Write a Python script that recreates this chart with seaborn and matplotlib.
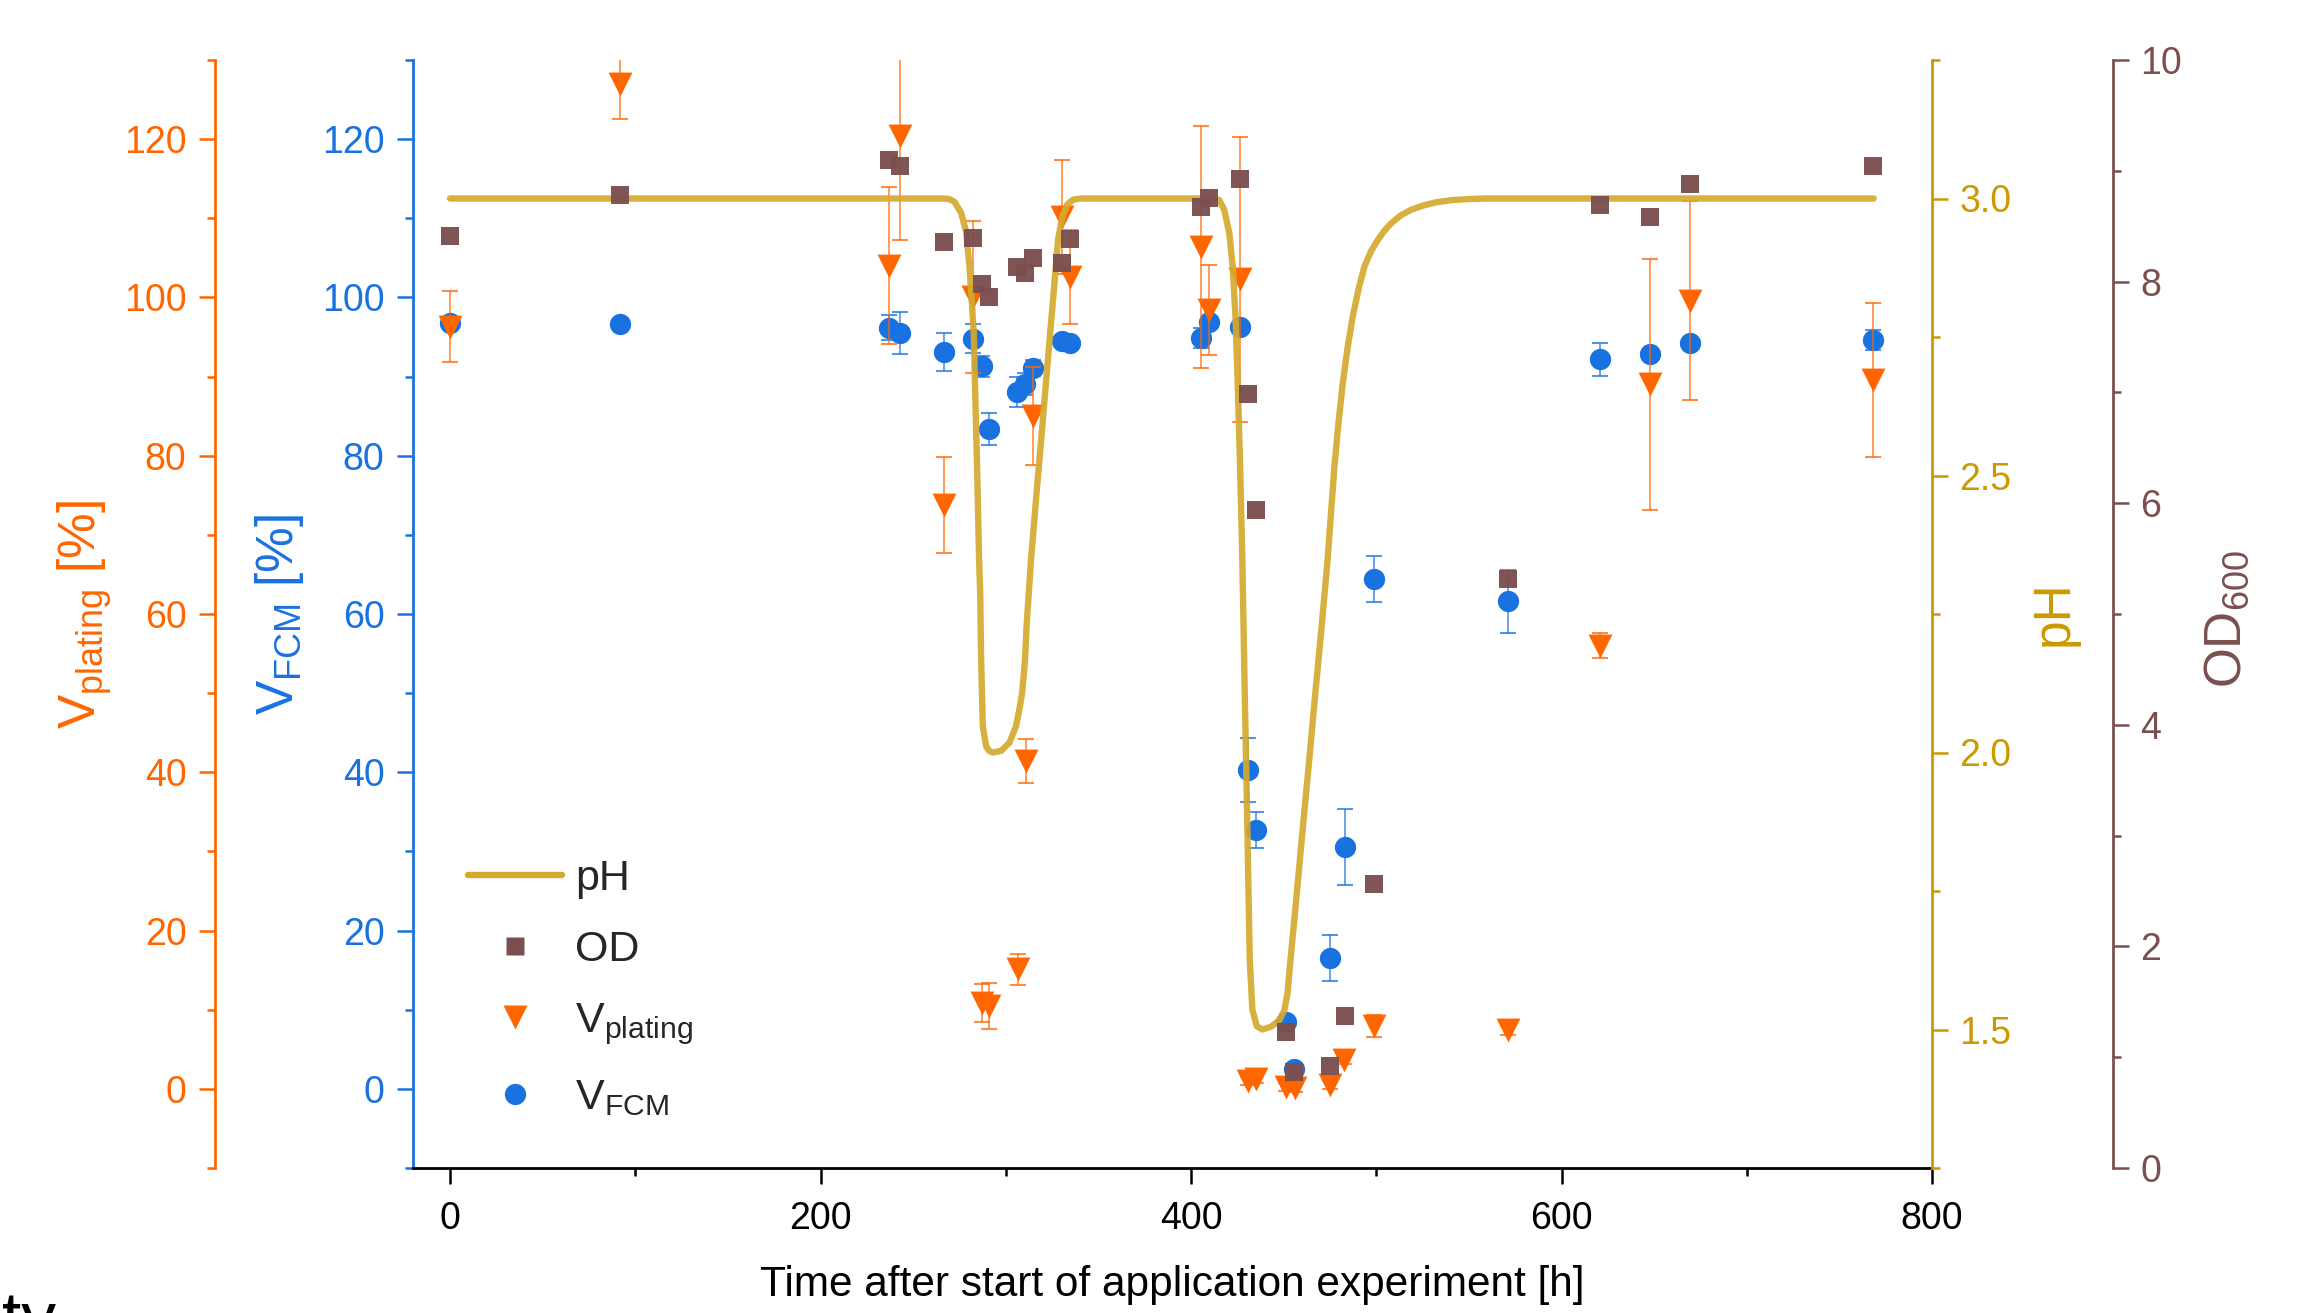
import matplotlib
matplotlib.use('Agg')
import matplotlib.pyplot as plt
from matplotlib.lines import Line2D
from matplotlib.ticker import MultipleLocator, FormatStrFormatter
import seaborn as sns


# values
# viability by flow cytometry [%]
t_fcm = [0, 92, 237, 243, 266.5, 282.5, 287, 291, 306, 310.5, 314.5, 330.5, 334.5,
         405.5, 409.5, 426.5, 431, 435, 451.5, 455.5, 475, 483, 499, 571, 621, 648, 669.5, 768]
v_fcm = [96.8, 96.6, 96.2, 95.5, 93.1, 94.8, 91.3, 83.4, 88.0, 89.1, 91.1, 94.5, 94.2,
         94.9, 96.9, 96.3, 40.3, 32.7, 8.5, 2.5, 16.5, 30.5, 64.4, 61.6, 92.2, 92.9, 94.3, 94.6]
e_fcm = [0.5, 0, 1.6, 2.7, 2.4, 1.8, 1.3, 2.0, 1.9, 1.4, 1.0, 0.4, 0.4,
         1.3, 0.8, 0.5, 4.0, 2.3, 0.5, 0.5, 2.9, 4.8, 2.9, 4.0, 2.1, 0.5, 0.5, 1.3]

# viability by plating [%]
t_pl = [0, 92, 237, 243, 266.5, 282.5, 287, 291, 306.5, 311, 314.5, 330.5, 334.5,
        405.5, 409.5, 426.5, 430.5, 435, 451.5, 456, 475, 482.5, 499, 571, 621, 648, 669.5, 768]
v_pl = [96.3, 127.0, 104.0, 120.4, 73.8, 100.0, 10.8, 10.5, 15.1, 41.4, 85.0, 110.2, 102.6,
        106.4, 98.4, 102.3, 1.0, 1.2, 0.2, 0.1, 0.5, 3.7, 7.9, 7.4, 56.0, 89.0, 99.6, 89.6]
e_pl = [4.5, 4.4, 9.9, 13.1, 6.1, 9.6, 2.4, 2.9, 2.0, 2.8, 6.2, 7.2, 5.9,
        15.3, 5.7, 18.0, 0.5, 0.5, 0.5, 0.5, 0.5, 0.5, 1.4, 0.6, 1.6, 15.9, 12.6, 9.7]

# optical density
t_od = [0, 92, 237, 243, 266.5, 282.5, 287, 291, 306, 310.5, 314.5, 330.5, 334.5,
        405.5, 409.5, 426.5, 431, 435, 451.5, 455.5, 475, 483, 499, 571, 621, 648, 669.5, 768]
v_od = [8.41, 8.78, 9.10, 9.04, 8.36, 8.39, 7.98, 7.86, 8.13, 8.08, 8.21, 8.17, 8.38,
        8.67, 8.75, 8.93, 6.99, 5.94, 1.23, 0.87, 0.92, 1.37, 2.56, 5.32, 8.69, 8.58, 8.88, 9.04]

# pH trace
t_ph = [0, 266.7, 269.5, 272.3, 275.9, 278.6, 280.4, 281.6, 282.7, 283.6, 284.5, 285.6,
        286.2, 286.7, 287.6, 289.4, 291.0, 293.0, 297.5, 302.0, 305.5, 307.3, 308.8, 310.4,
        311.2, 313.6, 316.3, 319.4, 322.4, 325.5, 328.2, 330.7, 333.4, 336.5, 340.6,
        412.6, 415.3, 418.0, 420.7, 422.5, 424.0, 425.2, 426.5, 427.7, 429.0, 430.4, 431.7,
        433.1, 435.5, 438.5, 443.2, 447.7, 450.4, 452.1, 453.7, 457.1, 460.4, 463.8, 467.1,
        470.5, 473.7, 477.4, 479.6, 481.9, 484.5, 487.3, 490.4, 493.6, 497.2, 500.8, 504.4,
        508.0, 513.4, 519.0, 525.0, 532.0, 540.3, 550.0, 560.0, 768.5]
v_ph = [3.0, 3.0, 2.999, 2.994, 2.974, 2.94, 2.877, 2.817, 2.757, 2.636, 2.516, 2.347,
        2.287, 2.167, 2.047, 2.011, 2.003, 2.0, 2.003, 2.018, 2.047, 2.077, 2.107, 2.167,
        2.227, 2.347, 2.456, 2.576, 2.696, 2.817, 2.925, 2.97, 2.99, 2.998, 3.0,
        3.0, 2.997, 2.979, 2.937, 2.877, 2.787, 2.666, 2.516, 2.347, 2.107, 1.866, 1.626,
        1.536, 1.506, 1.500, 1.505, 1.517, 1.535, 1.566, 1.626, 1.746, 1.866, 1.986, 2.107,
        2.227, 2.347, 2.516, 2.595, 2.666, 2.730, 2.787, 2.836, 2.877, 2.905, 2.925, 2.942,
        2.955, 2.970, 2.980, 2.987, 2.993, 2.997, 2.999, 3.0, 3.0]


sns.set_theme(style='white')
plt.rcParams['font.family'] = ['Liberation Sans', 'DejaVu Sans']
plt.rcParams['mathtext.fontset'] = 'custom'
plt.rcParams['mathtext.rm'] = 'Liberation Sans'
plt.rcParams['mathtext.it'] = 'Liberation Sans:italic'
plt.rcParams['mathtext.bf'] = 'Liberation Sans:bold'

c_orange = '#FF6600'
c_blue = '#1A72E0'
c_brown = '#7B4F4F'
c_ph = '#D4AA2E'
c_phax = '#CC9900'

W, H = 2308, 1313
fig = plt.figure(figsize=(W / 100, H / 100), dpi=100)
ax = fig.add_axes([413 / W, 1 - 1168 / H, 1519 / W, 1108 / H])
ax_pl = ax.twinx()
ax_ph = ax.twinx()
ax_od = ax.twinx()

# V_FCM (bottom layer)
ax.errorbar(t_fcm, v_fcm, yerr=e_fcm, fmt='none', ecolor=c_blue, elinewidth=1.2,
            capsize=6, capthick=1.5, alpha=0.75, zorder=1)
sns.scatterplot(x=t_fcm, y=v_fcm, ax=ax, color=c_blue, marker='o', s=235,
                linewidth=0, zorder=2)

# V_plating
ax_pl.errorbar(t_pl, v_pl, yerr=e_pl, fmt='none', ecolor=c_orange, elinewidth=1.2,
               capsize=6, capthick=1.5, alpha=0.75, zorder=1)
sns.scatterplot(x=t_pl, y=v_pl, ax=ax_pl, color=c_orange, marker='v', s=295,
                linewidth=0, zorder=2)

# pH
sns.lineplot(x=t_ph, y=v_ph, ax=ax_ph, color=c_ph, lw=4.6, sort=False,
             estimator=None, alpha=0.92, solid_capstyle='round', solid_joinstyle='round')

# OD
sns.scatterplot(x=t_od, y=v_od, ax=ax_od, color=c_brown, marker='s', s=156,
                linewidth=0, alpha=0.97)

# ---- axes styling ----
maj = dict(length=11.5, width=1.8)
mnr = dict(length=5.8, width=1.8)

ax.set_xlim(-20, 800)
for a in (ax, ax_pl):
    a.set_ylim(-10, 130)
    a.yaxis.set_major_locator(MultipleLocator(20))
    a.yaxis.set_minor_locator(MultipleLocator(10))
ax.xaxis.set_major_locator(MultipleLocator(200))
ax.xaxis.set_minor_locator(MultipleLocator(100))

ax_ph.set_ylim(1.25, 3.25)
ax_ph.yaxis.set_major_locator(MultipleLocator(0.5))
ax_ph.yaxis.set_minor_locator(MultipleLocator(0.25))
ax_ph.yaxis.set_major_formatter(FormatStrFormatter('%.1f'))

ax_od.set_ylim(0, 10)
ax_od.yaxis.set_major_locator(MultipleLocator(2))
ax_od.yaxis.set_minor_locator(MultipleLocator(1))

for a in (ax, ax_pl, ax_ph, ax_od):
    for s in a.spines.values():
        s.set_visible(False)
        s.set_linewidth(2)
    a.set_ylabel('')
    a.set_xlabel('')

# main: blue left axis + black bottom axis
ax.spines['left'].set_visible(True)
ax.spines['left'].set_color(c_blue)
ax.spines['bottom'].set_visible(True)
ax.spines['bottom'].set_color('black')
ax.tick_params(axis='y', which='both', left=True, right=False, direction='out',
               colors=c_blue, labelsize=27, pad=9)
ax.tick_params(axis='y', which='major', **maj)
ax.tick_params(axis='y', which='minor', **mnr)
ax.tick_params(axis='x', which='both', bottom=True, direction='out',
               colors='black', labelsize=27, pad=12)
ax.tick_params(axis='x', which='major', **maj)
ax.tick_params(axis='x', which='minor', **mnr)

# plating: orange axis moved further left
ax_pl.spines['left'].set_visible(True)
ax_pl.spines['left'].set_position(('axes', -198 / 1519))
ax_pl.spines['left'].set_color(c_orange)
ax_pl.yaxis.tick_left()
ax_pl.tick_params(axis='y', which='both', left=True, right=False, labelleft=True,
                  labelright=False, direction='out', colors=c_orange, labelsize=27, pad=9)
ax_pl.tick_params(axis='y', which='major', **maj)
ax_pl.tick_params(axis='y', which='minor', **mnr)

# pH: right axis
ax_ph.spines['right'].set_visible(True)
ax_ph.spines['right'].set_color(c_phax)
ax_ph.tick_params(axis='y', which='both', right=True, left=False, direction='out',
                  colors=c_phax, labelsize=27, pad=8)
ax_ph.tick_params(axis='y', which='major', **maj)
ax_ph.tick_params(axis='y', which='minor', **mnr)

# OD: right axis, offset
ax_od.spines['right'].set_visible(True)
ax_od.spines['right'].set_position(('axes', 1 + 181 / 1519))
ax_od.spines['right'].set_color(c_brown)
ax_od.tick_params(axis='y', which='both', right=True, left=False, direction='out',
                  colors=c_brown, labelsize=27, pad=8)
ax_od.tick_params(axis='y', which='major', **maj)
ax_od.tick_params(axis='y', which='minor', **mnr)

# axis titles
fig.text(85 / W, 1 - 615 / H, r'V$_{\mathrm{plating}}$ [%]', rotation=90,
         ha='center', va='center', color=c_orange, fontsize=37)
fig.text(280 / W, 1 - 615 / H, r'V$_{\mathrm{FCM}}$ [%]', rotation=90,
         ha='center', va='center', color=c_blue, fontsize=37)
fig.text(2054 / W, 1 - 613 / H, 'pH', rotation=90,
         ha='center', va='center', color=c_phax, fontsize=37)
fig.text(2227 / W, 1 - 619 / H, r'OD$_{600}$', rotation=90,
         ha='center', va='center', color=c_brown, fontsize=37)
fig.text(1172 / W, 1 - 1285 / H, 'Time after start of application experiment [h]',
         ha='center', va='center', color='black', fontsize=30.5)

# fragment of the neighbouring panel's text, cut at the bottom edge
fig.text(2 / W, -27 / H, 'ty', ha='left', va='baseline', color='black', fontsize=50)

# legend
handles = [Line2D([], [], color=c_ph, lw=4.6, solid_capstyle='round'),
           Line2D([], [], ls='none', marker='s', ms=12.5, mfc=c_brown, mec='none'),
           Line2D([], [], ls='none', marker='v', ms=17.2, mfc=c_orange, mec='none'),
           Line2D([], [], ls='none', marker='o', ms=15.3, mfc=c_blue, mec='none')]
labels = ['pH', 'OD', r'V$_{\mathrm{plating}}$', r'V$_{\mathrm{FCM}}$']
ax_od.legend(handles, labels, loc='upper left', bbox_to_anchor=(0.036, 0.279),
             frameon=False, fontsize=31, handlelength=2.2, handletextpad=0.3,
             labelspacing=0.72, borderpad=0, borderaxespad=0)

fig.savefig('out.png', dpi=100)
